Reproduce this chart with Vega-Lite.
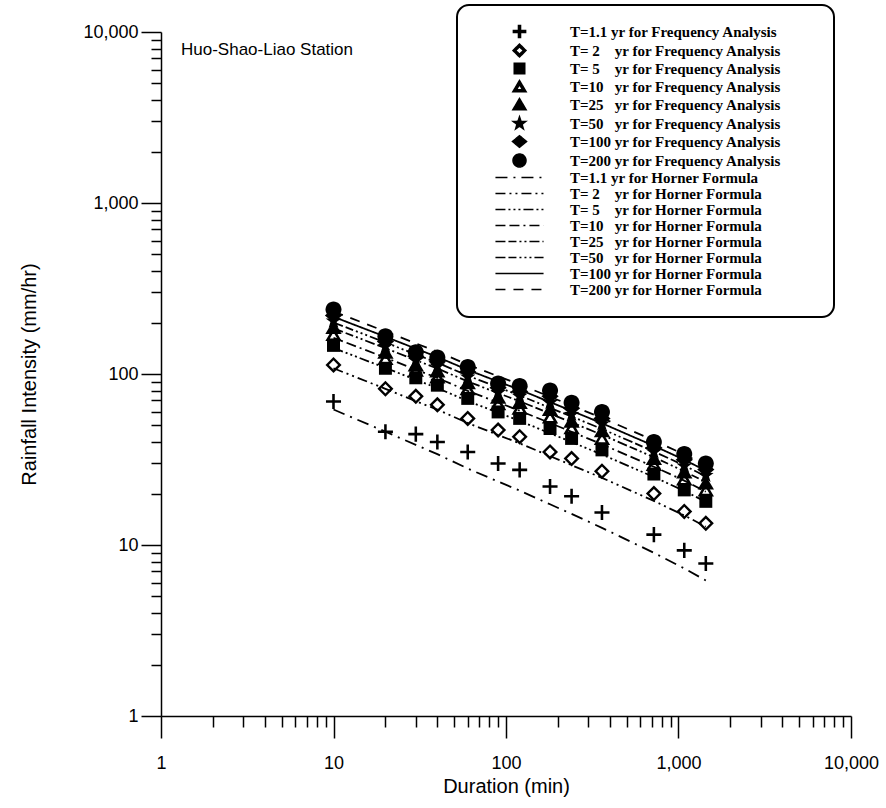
{
  "$schema": "https://vega.github.io/schema/vega-lite/v6.json",
  "width": 690,
  "height": 684,
  "autosize": {"type": "none"},
  "padding": {"left": 161, "top": 32, "right": 35, "bottom": 92},
  "background": "white",
  "config": {
    "view": {"stroke": null},
    "font": "Liberation Sans",
    "axis": {"grid": false},
    "legend": {"strokeWidth": 2}
  },
  "title": {
    "text": "Huo-Shao-Liao Station",
    "anchor": "start",
    "frame": "group",
    "orient": "top",
    "offset": -22,
    "dx": 20,
    "dy": 46,
    "fontSize": 17,
    "font": "Liberation Sans",
    "fontWeight": "normal",
    "color": "black",
    "baseline": "alphabetic"
  },
  "datasets": {
    "table": [
      {"d": 10, "F1": 69, "F2": 113, "F5": 147, "F10": 170, "F25": 187, "F50": 204, "F100": 220, "F200": 238, "H1": 62, "H2": 108, "H5": 142, "H10": 163, "H25": 185, "H50": 200, "H100": 216, "H200": 232},
      {"d": 20, "F1": 46, "F2": 82, "F5": 108, "F10": 123, "F25": 134, "F50": 145, "F100": 155, "F200": 166, "H1": 46, "H2": 81.9, "H5": 108.6, "H10": 124.6, "H25": 141.5, "H50": 152.9, "H100": 165.2, "H200": 177.4},
      {"d": 30, "F1": 44.5, "F2": 74, "F5": 95, "F10": 105, "F25": 113, "F50": 120, "F100": 127, "F200": 134, "H1": 38.5, "H2": 69.4, "H5": 92.5, "H10": 106.1, "H25": 120.5, "H50": 130.2, "H100": 140.7, "H200": 151.1},
      {"d": 40, "F1": 40, "F2": 66, "F5": 86, "F10": 96, "F25": 104, "F50": 111, "F100": 118, "F200": 125, "H1": 34, "H2": 61.9, "H5": 82.7, "H10": 94.9, "H25": 107.7, "H50": 116.4, "H100": 125.8, "H200": 135.1},
      {"d": 60, "F1": 35, "F2": 55, "F5": 72, "F10": 82, "F25": 89, "F50": 96, "F100": 103, "F200": 110, "H1": 28, "H2": 51.7, "H5": 69.5, "H10": 79.7, "H25": 90.5, "H50": 97.8, "H100": 105.7, "H200": 113.5},
      {"d": 90, "F1": 30, "F2": 47, "F5": 60, "F10": 67, "F25": 73, "F50": 78, "F100": 83, "F200": 88, "H1": 23.5, "H2": 44, "H5": 59.4, "H10": 68.2, "H25": 77.3, "H50": 83.6, "H100": 90.3, "H200": 97},
      {"d": 120, "F1": 27.5, "F2": 43, "F5": 55, "F10": 63, "F25": 68, "F50": 74, "F100": 79, "F200": 85, "H1": 20.8, "H2": 39.3, "H5": 53.2, "H10": 61, "H25": 69.3, "H50": 74.9, "H100": 80.9, "H200": 86.9},
      {"d": 180, "F1": 22, "F2": 35, "F5": 48, "F10": 56, "F25": 62, "F50": 68, "F100": 74, "F200": 80, "H1": 17.3, "H2": 33.1, "H5": 45, "H10": 51.7, "H25": 58.7, "H50": 63.4, "H100": 68.5, "H200": 73.6},
      {"d": 240, "F1": 19.3, "F2": 32, "F5": 42, "F10": 48.5, "F25": 53, "F50": 58, "F100": 63, "F200": 68, "H1": 15.2, "H2": 29.3, "H5": 40, "H10": 45.9, "H25": 52.1, "H50": 56.4, "H100": 60.9, "H200": 65.4},
      {"d": 360, "F1": 15.5, "F2": 27, "F5": 36, "F10": 42, "F25": 46.5, "F50": 51, "F100": 55, "F200": 60, "H1": 12.6, "H2": 24.7, "H5": 33.8, "H10": 38.8, "H25": 44.1, "H50": 47.7, "H100": 51.5, "H200": 55.3},
      {"d": 720, "F1": 11.5, "F2": 20, "F5": 26, "F10": 29.6, "F25": 32, "F50": 35, "F100": 37, "F200": 40, "H1": 9, "H2": 18.1, "H5": 25, "H10": 28.7, "H25": 32.6, "H50": 35.2, "H100": 38, "H200": 40.9},
      {"d": 1080, "F1": 9.3, "F2": 15.7, "F5": 21, "F10": 24.3, "F25": 26.7, "F50": 29, "F100": 31.5, "F200": 34, "H1": 7.3, "H2": 14.9, "H5": 20.7, "H10": 23.8, "H25": 27, "H50": 29.2, "H100": 31.5, "H200": 33.8},
      {"d": 1440, "F1": 7.8, "F2": 13.4, "F5": 18, "F10": 21, "F25": 23, "F50": 25.5, "F100": 27.6, "F200": 30, "H1": 6.2, "H2": 12.8, "H5": 17.9, "H10": 20.5, "H25": 23.3, "H50": 25.2, "H100": 27.2, "H200": 29.2}
    ],
    "labels": [
      {"code": "F1", "label": "T=1.1 yr for Frequency Analysis", "kind": "F"},
      {"code": "F2", "label": "T=\u00a02\u00a0\u00a0\u00a0 yr for Frequency Analysis", "kind": "F"},
      {"code": "F5", "label": "T=\u00a05\u00a0\u00a0\u00a0 yr for Frequency Analysis", "kind": "F"},
      {"code": "F10", "label": "T=10\u00a0\u00a0 yr for Frequency Analysis", "kind": "F"},
      {"code": "F25", "label": "T=25\u00a0\u00a0 yr for Frequency Analysis", "kind": "F"},
      {"code": "F50", "label": "T=50\u00a0\u00a0 yr for Frequency Analysis", "kind": "F"},
      {"code": "F100", "label": "T=100 yr for Frequency Analysis", "kind": "F"},
      {"code": "F200", "label": "T=200 yr for Frequency Analysis", "kind": "F"},
      {"code": "H1", "label": "T=1.1 yr for Horner Formula", "kind": "H"},
      {"code": "H2", "label": "T=\u00a02\u00a0\u00a0\u00a0 yr for Horner Formula", "kind": "H"},
      {"code": "H5", "label": "T=\u00a05\u00a0\u00a0\u00a0 yr for Horner Formula", "kind": "H"},
      {"code": "H10", "label": "T=10\u00a0\u00a0 yr for Horner Formula", "kind": "H"},
      {"code": "H25", "label": "T=25\u00a0\u00a0 yr for Horner Formula", "kind": "H"},
      {"code": "H50", "label": "T=50\u00a0\u00a0 yr for Horner Formula", "kind": "H"},
      {"code": "H100", "label": "T=100 yr for Horner Formula", "kind": "H"},
      {"code": "H200", "label": "T=200 yr for Horner Formula", "kind": "H"}
    ]
  },
  "data": {"name": "table"},
  "transform": [
    {"fold": ["F1", "F2", "F5", "F10", "F25", "F50", "F100", "F200", "H1", "H2", "H5", "H10", "H25", "H50", "H100", "H200"], "as": ["code", "value"]},
    {"lookup": "code", "from": {"data": {"name": "labels"}, "key": "code", "fields": ["label", "kind"]}}
  ],
  "encoding": {
    "x": {
      "field": "d",
      "type": "quantitative",
      "scale": {"type": "log", "domain": [1, 10000], "nice": false},
      "axis": {
        "title": "Duration (min)",
        "values": [1, 2, 3, 4, 5, 6, 7, 8, 9, 10, 20, 30, 40, 50, 60, 70, 80, 90, 100, 200, 300, 400, 500, 600, 700, 800, 900, 1000, 2000, 3000, 4000, 5000, 6000, 7000, 8000, 9000, 10000],
        "labelExpr": "indexof([1,10,100,1000,10000], datum.value) >= 0 ? format(datum.value, ',') : ''",
        "tickSize": {"condition": {"test": "indexof([1,10,100,1000,10000], datum.value) >= 0", "value": 22}, "value": 11},
        "labelOverlap": false,
        "labelFlush": false,
        "domainColor": "black",
        "tickColor": "black",
        "labelColor": "black",
        "titleColor": "black",
        "domainWidth": 1.5,
        "tickWidth": 1.5,
        "labelFont": "Liberation Sans",
        "labelFontSize": 18,
        "labelPadding": 16,
        "titleFont": "Liberation Sans",
        "titleFontSize": 20,
        "titleFontWeight": "normal",
        "titlePadding": 4
      }
    },
    "y": {
      "field": "value",
      "type": "quantitative",
      "scale": {"type": "log", "domain": [1, 10000], "nice": false},
      "axis": {
        "title": "Rainfall Intensity (mm/hr)",
        "values": [1, 2, 3, 4, 5, 6, 7, 8, 9, 10, 20, 30, 40, 50, 60, 70, 80, 90, 100, 200, 300, 400, 500, 600, 700, 800, 900, 1000, 2000, 3000, 4000, 5000, 6000, 7000, 8000, 9000, 10000],
        "labelExpr": "indexof([1,10,100,1000,10000], datum.value) >= 0 ? format(datum.value, ',') : ''",
        "tickSize": {"condition": {"test": "indexof([1,10,100,1000,10000], datum.value) >= 0", "value": 20}, "value": 10},
        "labelOverlap": false,
        "labelFlush": false,
        "domainColor": "black",
        "tickColor": "black",
        "labelColor": "black",
        "titleColor": "black",
        "domainWidth": 1.5,
        "tickWidth": 1.5,
        "labelFont": "Liberation Sans",
        "labelFontSize": 18,
        "labelPadding": 3,
        "titleFont": "Liberation Sans",
        "titleFontSize": 20,
        "titleFontWeight": "normal",
        "titlePadding": 43
      }
    }
  },
  "layer": [
    {
      "transform": [{"filter": "datum.kind == 'H'"}],
      "mark": {"type": "line", "color": "black", "strokeWidth": 1.8},
      "encoding": {
        "strokeDash": {
          "field": "label",
          "type": "nominal",
          "scale": {
            "domain": ["T=1.1 yr for Frequency Analysis", "T=\u00a02\u00a0\u00a0\u00a0 yr for Frequency Analysis", "T=\u00a05\u00a0\u00a0\u00a0 yr for Frequency Analysis", "T=10\u00a0\u00a0 yr for Frequency Analysis", "T=25\u00a0\u00a0 yr for Frequency Analysis", "T=50\u00a0\u00a0 yr for Frequency Analysis", "T=100 yr for Frequency Analysis", "T=200 yr for Frequency Analysis", "T=1.1 yr for Horner Formula", "T=\u00a02\u00a0\u00a0\u00a0 yr for Horner Formula", "T=\u00a05\u00a0\u00a0\u00a0 yr for Horner Formula", "T=10\u00a0\u00a0 yr for Horner Formula", "T=25\u00a0\u00a0 yr for Horner Formula", "T=50\u00a0\u00a0 yr for Horner Formula", "T=100 yr for Horner Formula", "T=200 yr for Horner Formula"],
            "range": [[1, 0], [1, 0], [1, 0], [1, 0], [1, 0], [1, 0], [1, 0], [1, 0], [12, 6, 2, 6], [10, 4, 2, 4, 2, 4], [10, 3, 2, 3, 2, 3, 2, 3], [10, 4, 10, 4, 2, 4], [10, 3, 8, 3, 2, 3, 2, 3], [10, 3, 8, 3, 2, 3, 2, 3, 2, 3], [1, 0], [10, 8]]
          },
          "legend": {
            "orient": "none", "legendX": 296, "legendY": -27,
            "title": " ", "titleOrient": "left", "titleFontSize": 1, "titlePadding": 36,
            "padding": 19, "fillColor": "white", "strokeColor": "black", "cornerRadius": 12,
            "labelFont": "Liberation Serif", "labelFontWeight": "bold", "labelFontSize": 15, "labelColor": "black",
            "labelOffset": 43, "labelLimit": 500, "rowPadding": 0, "symbolSize": 169,
            "symbolFillColor": "black", "symbolStrokeWidth": 1.5, "symbolOpacity": 1,
            "labelExpr": "datum.label + '\u2800\u2800\u2800'"
          }
        }
      }
    },
    {
      "transform": [{"filter": "datum.kind == 'F'"}],
      "mark": {"type": "point", "filled": true, "color": "black", "opacity": 1, "size": 256},
      "encoding": {
        "shape": {
          "field": "label",
          "type": "nominal",
          "scale": {
            "domain": ["T=1.1 yr for Frequency Analysis", "T=\u00a02\u00a0\u00a0\u00a0 yr for Frequency Analysis", "T=\u00a05\u00a0\u00a0\u00a0 yr for Frequency Analysis", "T=10\u00a0\u00a0 yr for Frequency Analysis", "T=25\u00a0\u00a0 yr for Frequency Analysis", "T=50\u00a0\u00a0 yr for Frequency Analysis", "T=100 yr for Frequency Analysis", "T=200 yr for Frequency Analysis", "T=1.1 yr for Horner Formula", "T=\u00a02\u00a0\u00a0\u00a0 yr for Horner Formula", "T=\u00a05\u00a0\u00a0\u00a0 yr for Horner Formula", "T=10\u00a0\u00a0 yr for Horner Formula", "T=25\u00a0\u00a0 yr for Horner Formula", "T=50\u00a0\u00a0 yr for Horner Formula", "T=100 yr for Horner Formula", "T=200 yr for Horner Formula"],
            "range": [
              "M-0.16,-0.94H0.16V-0.16H0.94V0.16H0.16V0.94H-0.16V0.16H-0.94V-0.16H-0.16Z",
              "M0,-1L1,0L0,1L-1,0ZM0,-0.58L-0.58,0L0,0.58L0.58,0Z",
              "M-0.81,-0.81H0.81V0.81H-0.81Z",
              "M0,-0.93L1.02,0.81H-1.02ZM0,-0.29L-0.46,0.49H0.46Z",
              "M0,-0.93L1.02,0.81H-1.02Z",
              "M0,-1.02L0.24,-0.33L0.97,-0.315L0.387,0.126L0.6,0.825L0,0.408L-0.6,0.825L-0.387,0.126L-0.97,-0.315L-0.24,-0.33Z",
              "M0,-0.9L1.08,0L0,0.9L-1.08,0Z",
              "M1,0A1,1,0,1,1,-1,0A1,1,0,1,1,1,0Z",
              "M-3.7,0H3.7", "M-3.7,0H3.7", "M-3.7,0H3.7", "M-3.7,0H3.7", "M-3.7,0H3.7", "M-3.7,0H3.7", "M-3.7,0H3.7", "M-3.7,0H3.7"
            ]
          },
          "legend": {
            "orient": "none", "legendX": 296, "legendY": -27,
            "title": " ", "titleOrient": "left", "titleFontSize": 1, "titlePadding": 36,
            "padding": 19, "fillColor": "white", "strokeColor": "black", "cornerRadius": 12,
            "labelFont": "Liberation Serif", "labelFontWeight": "bold", "labelFontSize": 15, "labelColor": "black",
            "labelOffset": 43, "labelLimit": 500, "rowPadding": 0, "symbolSize": 169,
            "symbolFillColor": "black", "symbolStrokeWidth": 1.5, "symbolOpacity": 1,
            "labelExpr": "datum.label + '\u2800\u2800\u2800'"
          }
        }
      }
    }
  ]
}
